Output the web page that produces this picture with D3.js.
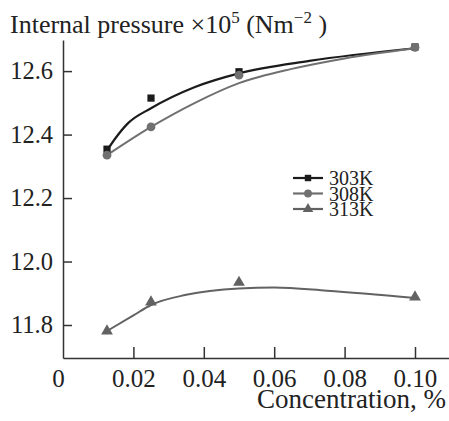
<!DOCTYPE html>
<html>
<head>
<meta charset="utf-8">
<script src="https://cdn.jsdelivr.net/npm/d3@7"></script>
<style>
  body { margin: 0; background: #fff; }
  svg text { font-family: "Liberation Serif", "Times New Roman", "DejaVu Serif", serif; fill: #222; }
</style>
</head>
<body>
<div id="chart"></div>
<script>
const WIDTH = 449;
const HEIGHT = 421;
const SERIF = "'Liberation Serif', 'Times New Roman', 'DejaVu Serif', serif";

// measured points
const concentrations = [0.0125, 0.025, 0.05, 0.1];
const p303 = [12.354, 12.515, 12.598, 12.676];
const p308 = [12.335, 12.424, 12.587, 12.675];
const p313 = [11.781, 11.872, 11.934, 11.888];

// fitted curves
const fit303x = [0.0125, 0.015, 0.0185, 0.025, 0.0375, 0.05, 0.07, 0.1];
const fit303y = [12.35, 12.39, 12.436, 12.483, 12.55, 12.593, 12.632, 12.672];
const fit308x = [0.0125, 0.025, 0.0375, 0.05, 0.065, 0.08, 0.1];
const fit308y = [12.335, 12.424, 12.5, 12.562, 12.607, 12.64, 12.672];
const fit313x = [0.0125, 0.02, 0.025, 0.035, 0.05, 0.06, 0.075, 0.1];
const fit313y = [11.781, 11.83, 11.863, 11.895, 11.915, 11.918, 11.908, 11.885];

const seriesNames = ["303K", "308K", "313K"];
const seriesColors = ["#1b1b1b", "#707070", "#626262"];
const xTicks = [0, 0.02, 0.04, 0.06, 0.08, 0.10];
const xTickLabels = ["0", "0.02", "0.04", "0.06", "0.08", "0.10"];
const yTicks = [11.8, 12.0, 12.2, 12.4, 12.6];
const yTickLabels = ["11.8", "12.0", "12.2", "12.4", "12.6"];

const svg = d3.select("#chart").append("svg")
    .attr("width", WIDTH)
    .attr("height", HEIGHT)
    .attr("font-family", SERIF);

const x = d3.scaleLinear().domain([0, 0.10966]).range([63, 449]);
const y = d3.scaleLinear().domain([11.696, 12.698]).range([358, 40]);

// axes
const xAxis = svg.append("g")
    .attr("transform", `translate(0,${y.range()[0]})`)
    .call(d3.axisBottom(x).tickValues(xTicks)
        .tickFormat((d, i) => xTickLabels[i])
        .tickSizeInner(-11).tickSizeOuter(0).tickPadding(11));
xAxis.attr("font-family", SERIF).attr("font-size", 25);
xAxis.selectAll(".tick").filter(d => d === 0).select("line").remove();
xAxis.selectAll(".tick").filter(d => d === 0).select("text").attr("x", -5);

const yAxis = svg.append("g")
    .attr("transform", `translate(${x.range()[0]},0)`)
    .call(d3.axisLeft(y).tickValues(yTicks)
        .tickFormat((d, i) => yTickLabels[i])
        .tickSizeInner(-9).tickSizeOuter(0).tickPadding(10));
yAxis.attr("font-family", SERIF).attr("font-size", 24.5);

svg.selectAll(".domain, .tick line").attr("stroke", "#333").attr("stroke-width", 1.5);

// curves
const line = d3.line().x(d => x(d[0])).y(d => y(d[1])).curve(d3.curveMonotoneX);
const fits = [
    d3.zip(fit303x, fit303y),
    d3.zip(fit308x, fit308y),
    d3.zip(fit313x, fit313y)
];
fits.forEach((f, i) => {
    svg.append("path")
        .attr("d", line(f))
        .attr("fill", "none")
        .attr("stroke", seriesColors[i])
        .attr("stroke-width", i === 0 ? 2.2 : 2);
});

// markers
const symbols = [d3.symbolSquare, d3.symbolCircle, d3.symbolTriangle];
const symSizes = [52, 60, 60];
const values = [p303, p308, p313];
values.forEach((vals, i) => {
    svg.selectAll(null)
        .data(d3.zip(concentrations, vals))
        .enter().append("path")
        .attr("d", d3.symbol().type(symbols[i]).size(symSizes[i]))
        .attr("transform", d => `translate(${x(d[0])},${y(d[1])})`)
        .attr("fill", seriesColors[i]);
});

// legend
const legend = svg.append("g").attr("transform", "translate(293,178)");
seriesNames.forEach((name, i) => {
    const g = legend.append("g").attr("transform", `translate(0,${i * 15.5})`);
    g.append("line").attr("x1", 0).attr("x2", 30)
        .attr("stroke", seriesColors[i]).attr("stroke-width", 2.2);
    g.append("path")
        .attr("d", d3.symbol().type(symbols[i]).size(symSizes[i] * 0.8))
        .attr("transform", "translate(15,0)")
        .attr("fill", seriesColors[i]);
    g.append("text").attr("x", 36).attr("y", 7)
        .attr("font-size", 20).text(name);
});

// titles
const yTitle = svg.append("text").attr("x", 10).attr("y", 33).attr("font-size", 26);
yTitle.append("tspan").text("Internal pressure \u00d710");
yTitle.append("tspan").attr("dy", -10).attr("font-size", 17).text("5");
yTitle.append("tspan").attr("dy", 10).text(" (Nm");
yTitle.append("tspan").attr("dy", -10).attr("font-size", 17).text("\u22122");
yTitle.append("tspan").attr("dy", 10).text(" )");

svg.append("text")
    .attr("x", 446).attr("y", 408)
    .attr("text-anchor", "end")
    .attr("font-size", 27)
    .text("Concentration, %");
</script>
</body>
</html>
